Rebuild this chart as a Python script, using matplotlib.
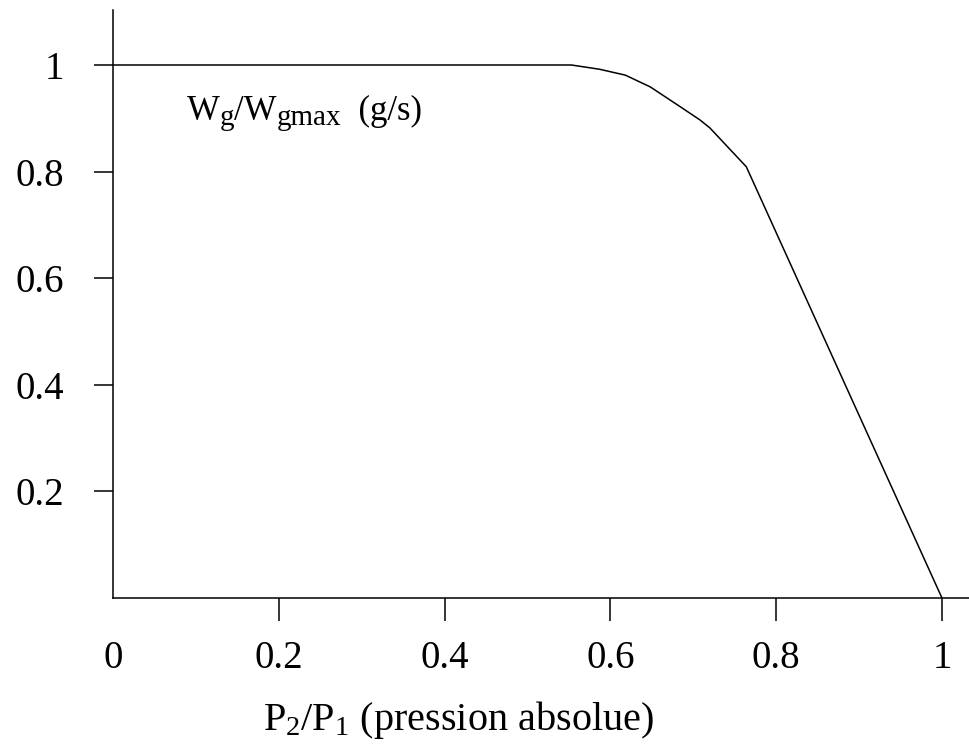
import matplotlib.pyplot as plt
from matplotlib.transforms import IdentityTransform

plt.rcParams['font.family'] = ['Liberation Serif', 'DejaVu Serif']
plt.rcParams['mathtext.fontset'] = 'custom'
plt.rcParams['mathtext.rm'] = 'Liberation Serif'
plt.rcParams['mathtext.it'] = 'Liberation Serif:italic'

# values
pressure_ratio = [0.0, 0.553, 0.587, 0.618, 0.648, 0.684, 0.708, 0.720, 0.764, 1.0]
flow_ratio = [1.0, 1.0, 0.992, 0.981, 0.959, 0.922, 0.897, 0.882, 0.809, 0.0]

x_ticks = [0, 0.2, 0.4, 0.6, 0.8, 1]
x_tick_labels = ['0', '0.2', '0.4', '0.6', '0.8', '1']
y_ticks = [0.2, 0.4, 0.6, 0.8, 1]
y_tick_labels = ['0.2', '0.4', '0.6', '0.8', '1']

fig = plt.figure(figsize=(9.69, 7.48), dpi=100)
ax = fig.add_axes([0.1166, 0.2005, 0.8834, 0.786])

ax.plot(pressure_ratio, flow_ratio, color='black', linewidth=1.1)

ax.set_xlim(0, 1.0326)
ax.set_ylim(0, 1.103)

ax.spines['top'].set_visible(False)
ax.spines['right'].set_visible(False)
for s in ('left', 'bottom'):
    ax.spines[s].set_linewidth(1.1)

ax.set_xticks(x_ticks)
ax.set_xticklabels(x_tick_labels)
ax.set_yticks(y_ticks)
ax.set_yticklabels(y_tick_labels)
ax.tick_params(axis='x', direction='out', length=16.5, width=1.1, pad=14, labelsize=28)
ax.tick_params(axis='y', direction='out', length=14, width=1.1, pad=21, labelsize=28)
# no tick mark at 0 on the x axis
ax.xaxis.get_major_ticks()[0].tick1line.set_visible(False)

# curve label, built piece by piece so the subscripts can stay large
renderer = fig.canvas.get_renderer()
px, py = ax.transData.transform((0.089, 0.897))
pieces = [('W', 25, 0), ('g', 21, -5), ('/W', 25, 0), ('gmax', 21, -5), ('  (g/s)', 25, 0)]
for s, size, dy in pieces:
    t = fig.text(px, py + dy, s, fontsize=size, va='baseline', ha='left',
                 transform=IdentityTransform())
    px = t.get_window_extent(renderer).x1

fig.text(0.4727, 0.024, r'$\mathrm{P_2/P_1}$ (pression absolue)', fontsize=29,
         ha='center', va='baseline')

fig.savefig('out.png', dpi=100)
